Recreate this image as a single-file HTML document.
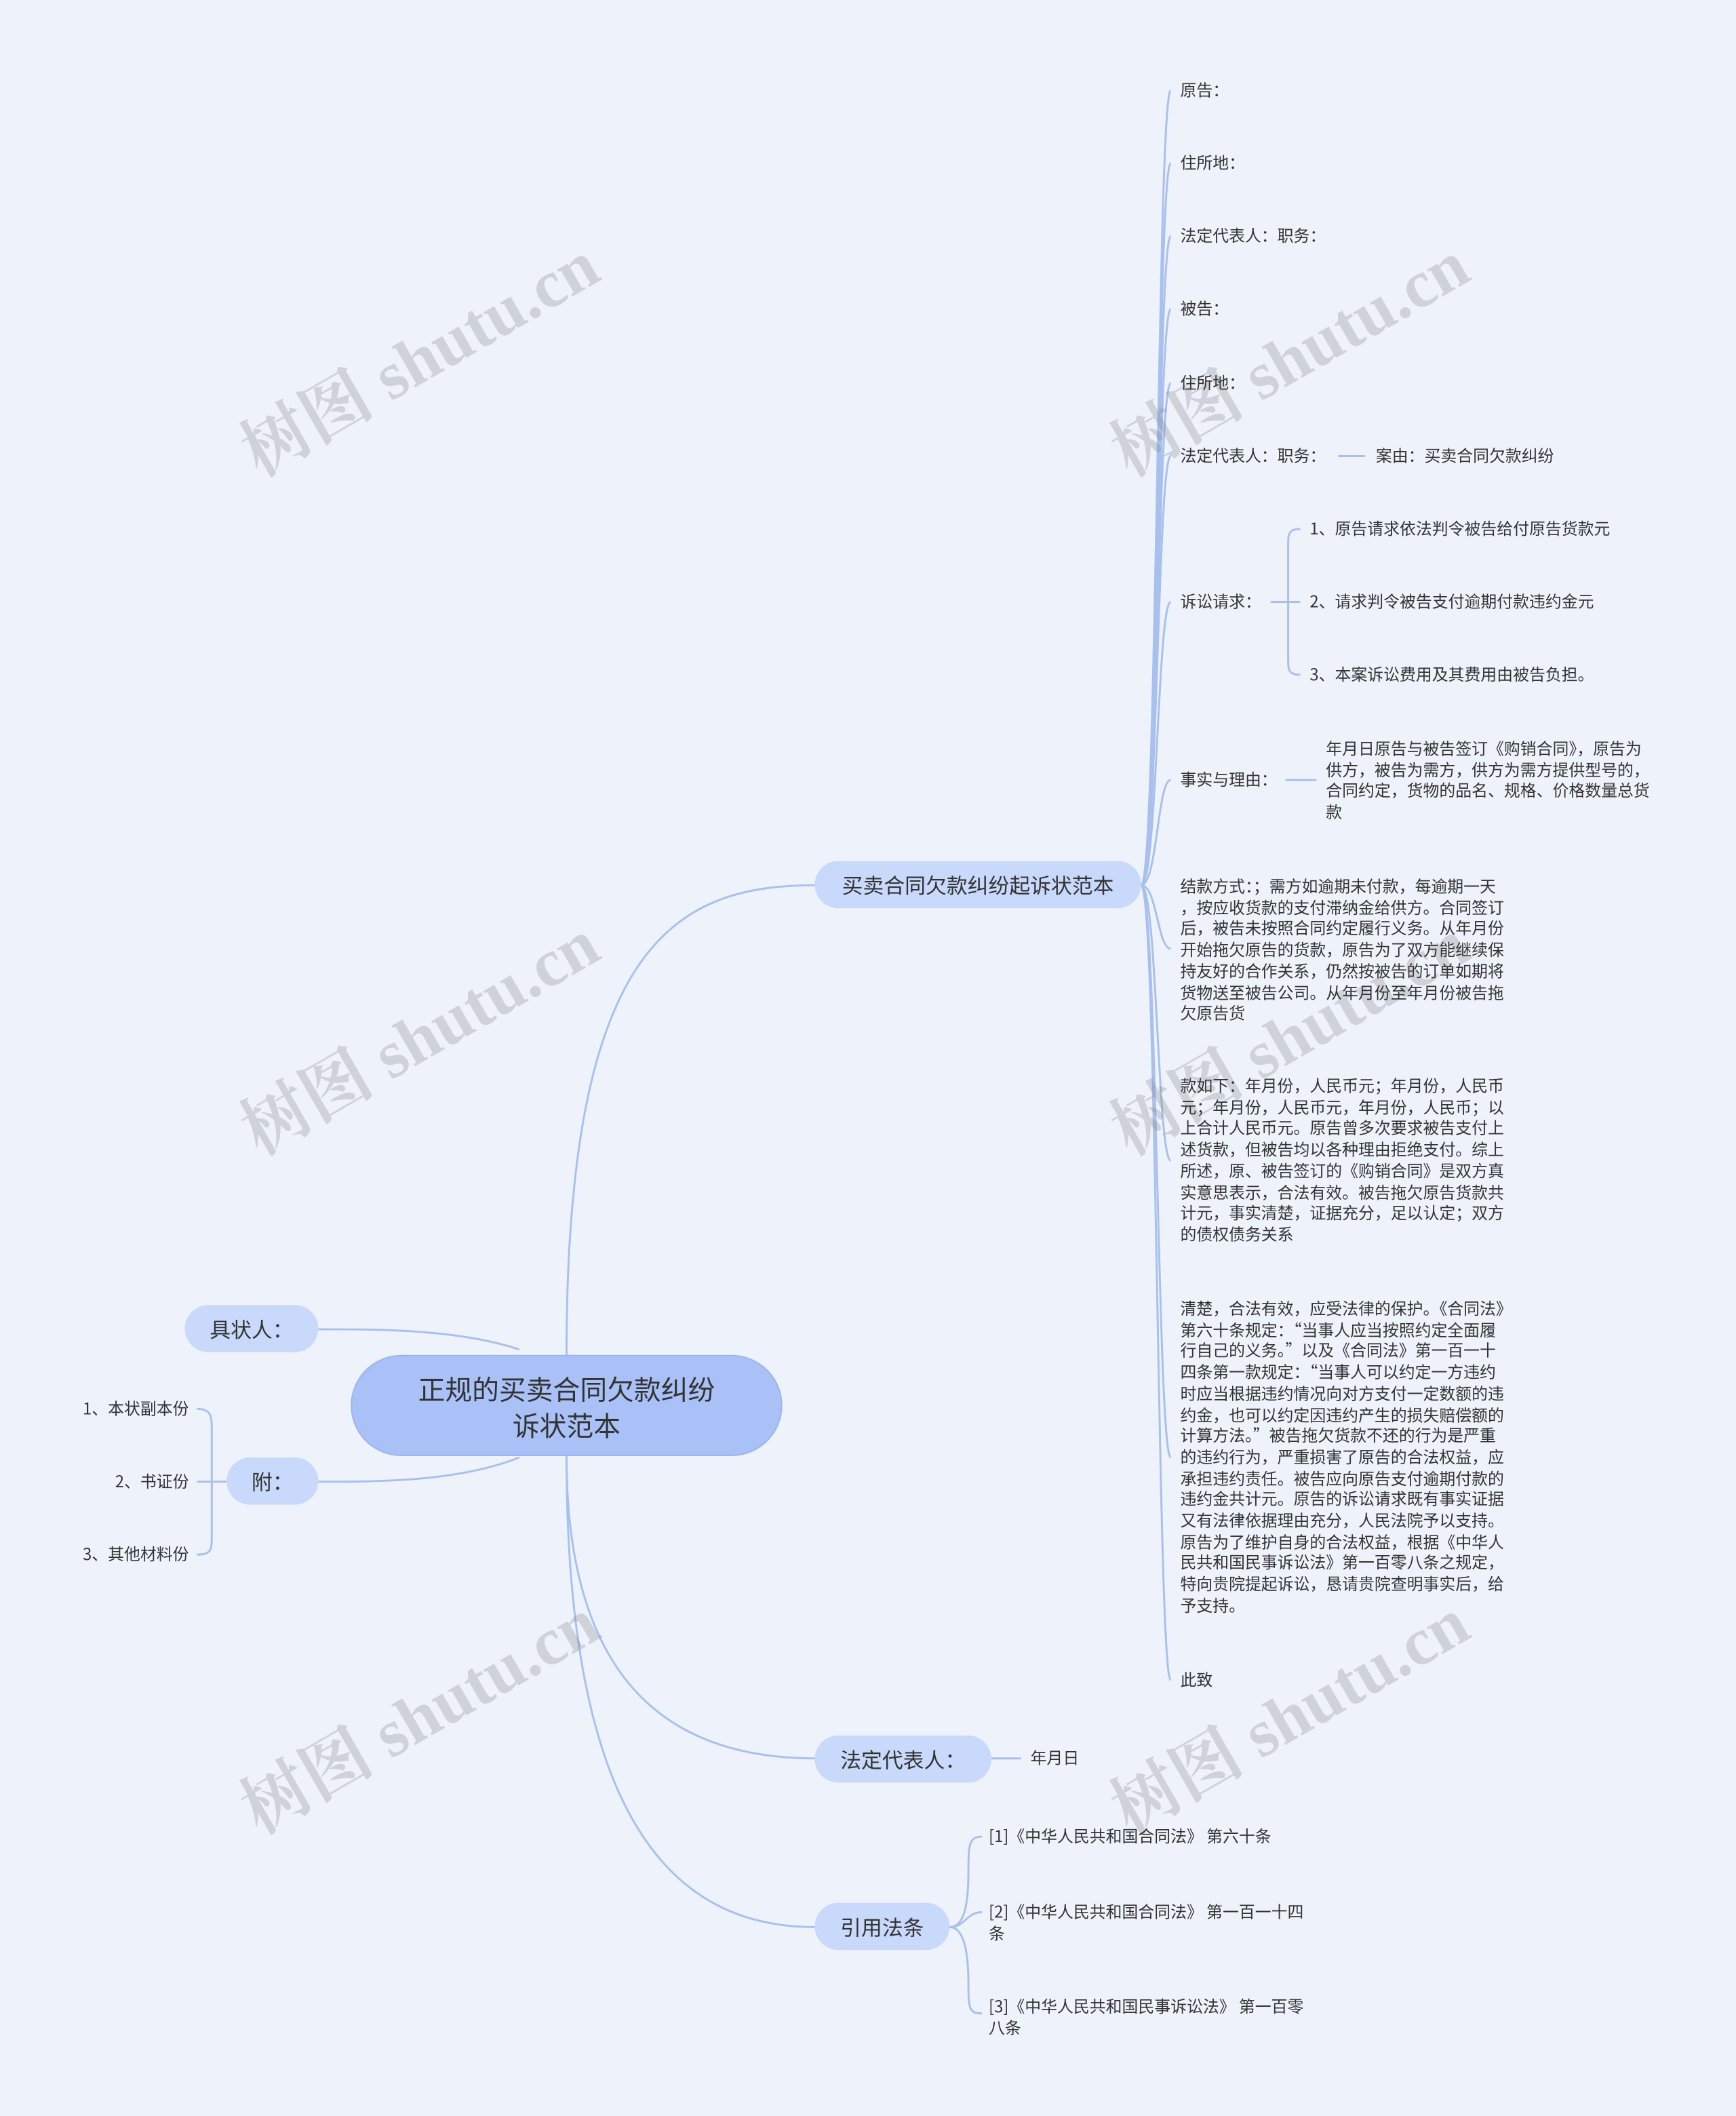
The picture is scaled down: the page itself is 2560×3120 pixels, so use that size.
<!DOCTYPE html>
<html><head><meta charset="utf-8">
<style>
html,body{margin:0;padding:0;background:#eef3fb;}
body{width:2560px;height:3120px;overflow:hidden;position:relative;}
#w{position:absolute;left:0;top:0;width:1287px;height:1568px;transform:scale(1.9891,1.9898);transform-origin:0 0;font-family:"Noto Sans CJK SC","Liberation Sans",sans-serif;color:#333;}
.t{position:absolute;font-size:12px;line-height:15.7px;white-space:nowrap;font-kerning:none;font-feature-settings:"palt" 0,"halt" 0;}
.p{white-space:normal;width:242px;word-break:break-all;line-break:anywhere;}
.b{position:absolute;background:#c9d9fb;border-radius:18px;font-size:15.5px;display:flex;align-items:center;justify-content:center;color:#333;}
.wm{position:absolute;font-size:50px;color:rgba(120,120,120,0.26);transform:rotate(-30deg);font-weight:bold;white-space:nowrap;font-family:"Liberation Serif","Noto Serif CJK SC",serif;}
</style></head><body><div id="w">
<svg width="1287" height="1568" style="position:absolute;left:0;top:0" fill="none" stroke="#a9c0ef" stroke-width="1.5">
<path d="M420,1004 C420,700 500,656 604,656"/>
<path d="M420,1079 C420,1250 500,1303 604,1303"/>
<path d="M420,1079 C420,1350 500,1428 604,1428"/>
<path d="M385,1000 C340,985 280,985 236,985"/>
<path d="M385,1080 C340,1098 280,1098 236,1098"/>
<path d="M168,1098 L146,1098"/>
<path d="M146,1044 C157,1044 157,1050 157,1060 L157,1138 C157,1148 157,1152 146,1152"/>
<path d="M735,1303 L757,1303"/>
<path d="M704,1428 C718,1428 718,1400 718,1380 C718,1365 720,1361 728,1361"/>
<path d="M704,1428 C716,1428 716,1417 728,1417"/>
<path d="M704,1428 C718,1428 718,1460 718,1475 C718,1490 720,1492 728,1492"/>
<g>
<path d="M846,656 C858,656 858,67 868,67"/>
<path d="M846,656 C858,656 858,121 868,121"/>
<path d="M846,656 C858,656 858,175 868,175"/>
<path d="M846,656 C858,656 858,229 868,229"/>
<path d="M846,656 C858,656 858,284 868,284"/>
<path d="M846,656 C858,656 858,338 868,338"/>
<path d="M846,656 C858,656 858,446 868,446"/>
<path d="M846,656 C858,656 858,578 868,578"/>
<path d="M846,656 C858,656 858,703 868,703"/>
<path d="M846,656 C858,656 858,860 868,860"/>
<path d="M846,656 C858,656 858,1080 868,1080"/>
<path d="M846,656 C858,656 858,1245 868,1245"/>
</g>
<path d="M992,338 L1012,338"/>
<path d="M942,446 L955,446"/>
<path d="M964,392 C955,392 955,396 955,405 L955,488 C955,496 955,500 964,500"/>
<path d="M955,446 L964,446"/>
<path d="M953,578 L976,578"/>
</svg>

<div class="wm" style="left:162px;top:226px">树图 shutu.cn</div>
<div class="wm" style="left:807px;top:226px">树图 shutu.cn</div>
<div class="wm" style="left:162px;top:729px">树图 shutu.cn</div>
<div class="wm" style="left:807px;top:729px">树图 shutu.cn</div>
<div class="wm" style="left:162px;top:1232px">树图 shutu.cn</div>
<div class="wm" style="left:807px;top:1232px">树图 shutu.cn</div>

<div class="b" style="left:260px;top:1004px;width:320px;height:75px;border-radius:38px;background:#a9c1f7;font-size:20px;line-height:27px;text-align:center;border:1px solid #9bb5ef;box-sizing:border-box">正规的买卖合同欠款纠纷<br>诉状范本</div>
<div class="b" style="left:137px;top:967px;width:99px;height:35px">具状人：</div>
<div class="b" style="left:168px;top:1080px;width:68px;height:35px">附：</div>
<div class="b" style="left:604px;top:638px;width:242px;height:35px">买卖合同欠款纠纷起诉状范本</div>
<div class="b" style="left:604px;top:1286px;width:131px;height:35px">法定代表人：</div>
<div class="b" style="left:604px;top:1410px;width:100px;height:35px">引用法条</div>

<div class="t" style="right:1147px;top:1036px">1、本状副本份</div>
<div class="t" style="right:1147px;top:1090px">2、书证份</div>
<div class="t" style="right:1147px;top:1144px">3、其他材料份</div>
<div class="t" style="left:764px;top:1295px">年月日</div>
<div class="t" style="left:733px;top:1353px">[1]《中华人民共和国合同法》 第六十条</div>
<div class="t p" style="left:733px;top:1409px;width:242px">[2]《中华人民共和国合同法》 第一百一十四条</div>
<div class="t p" style="left:733px;top:1479px;width:242px">[3]《中华人民共和国民事诉讼法》 第一百零八条</div>

<div class="t" style="left:875px;top:59px">原告：</div>
<div class="t" style="left:875px;top:113px">住所地：</div>
<div class="t" style="left:875px;top:167px">法定代表人：职务：</div>
<div class="t" style="left:875px;top:221px">被告：</div>
<div class="t" style="left:875px;top:276px">住所地：</div>
<div class="t" style="left:875px;top:330px">法定代表人：职务：</div>
<div class="t" style="left:1020px;top:330px">案由：买卖合同欠款纠纷</div>
<div class="t" style="left:875px;top:438px">诉讼请求：</div>
<div class="t" style="left:971px;top:384px">1、原告请求依法判令被告给付原告货款元</div>
<div class="t" style="left:971px;top:438px">2、请求判令被告支付逾期付款违约金元</div>
<div class="t" style="left:971px;top:492px">3、本案诉讼费用及其费用由被告负担。</div>
<div class="t" style="left:875px;top:570px">事实与理由：</div>
<div class="t p" style="left:983px;top:547px">年月日原告与被告签订《购销合同》，原告为供方，被告为需方，供方为需方提供型号的，合同约定，货物的品名、规格、价格数量总货款</div>
<div class="t p" style="left:875px;top:649px">结款方式：；需方如逾期未付款，每逾期一天，按应收货款的支付滞纳金给供方。合同签订后，被告未按照合同约定履行义务。从年月份开始拖欠原告的货款，原告为了双方能继续保持友好的合作关系，仍然按被告的订单如期将货物送至被告公司。从年月份至年月份被告拖欠原告货</div>
<div class="t p" style="left:875px;top:797px">款如下：年月份，人民币元；年月份，人民币元；年月份，人民币元，年月份，人民币；以上合计人民币元。原告曾多次要求被告支付上述货款，但被告均以各种理由拒绝支付。综上所述，原、被告签订的《购销合同》是双方真实意思表示，合法有效。被告拖欠原告货款共计元，事实清楚，证据充分，足以认定；双方的债权债务关系</div>
<div class="t p" style="left:875px;top:962px">清楚，合法有效，应受法律的保护。《合同法》第六十条规定：“当事人应当按照约定全面履行自己的义务。”以及《合同法》第一百一十四条第一款规定：“当事人可以约定一方违约时应当根据违约情况向对方支付一定数额的违约金，也可以约定因违约产生的损失赔偿额的计算方法。”被告拖欠货款不还的行为是严重的违约行为，严重损害了原告的合法权益，应承担违约责任。被告应向原告支付逾期付款的违约金共计元。原告的诉讼请求既有事实证据又有法律依据理由充分，人民法院予以支持。原告为了维护自身的合法权益，根据《中华人民共和国民事诉讼法》第一百零八条之规定，特向贵院提起诉讼，恳请贵院查明事实后，给予支持。</div>
<div class="t" style="left:875px;top:1237px">此致</div>
</div></body></html>
